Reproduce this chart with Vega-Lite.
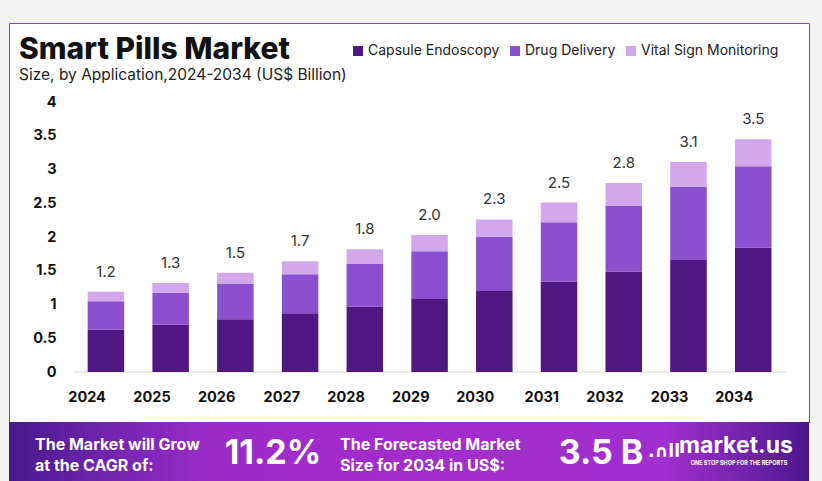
{
  "$schema": "https://vega.github.io/schema/vega-lite/v6.json",
  "background": "#f3f3f3",
  "padding": {"left": 8, "top": 22, "right": 14, "bottom": 0},
  "autosize": {"type": "pad"},
  "spacing": 0,
  "bounds": "flush",
  "datasets": {
    "main": [
      {"year": "2024", "application": "Capsule Endoscopy", "value": 0.63},
      {"year": "2024", "application": "Drug Delivery", "value": 0.42},
      {"year": "2024", "application": "Vital Sign Monitoring", "value": 0.14},
      {"year": "2025", "application": "Capsule Endoscopy", "value": 0.70},
      {"year": "2025", "application": "Drug Delivery", "value": 0.47},
      {"year": "2025", "application": "Vital Sign Monitoring", "value": 0.15},
      {"year": "2026", "application": "Capsule Endoscopy", "value": 0.78},
      {"year": "2026", "application": "Drug Delivery", "value": 0.53},
      {"year": "2026", "application": "Vital Sign Monitoring", "value": 0.16},
      {"year": "2027", "application": "Capsule Endoscopy", "value": 0.87},
      {"year": "2027", "application": "Drug Delivery", "value": 0.58},
      {"year": "2027", "application": "Vital Sign Monitoring", "value": 0.19},
      {"year": "2028", "application": "Capsule Endoscopy", "value": 0.97},
      {"year": "2028", "application": "Drug Delivery", "value": 0.63},
      {"year": "2028", "application": "Vital Sign Monitoring", "value": 0.22},
      {"year": "2029", "application": "Capsule Endoscopy", "value": 1.08},
      {"year": "2029", "application": "Drug Delivery", "value": 0.71},
      {"year": "2029", "application": "Vital Sign Monitoring", "value": 0.24},
      {"year": "2030", "application": "Capsule Endoscopy", "value": 1.20},
      {"year": "2030", "application": "Drug Delivery", "value": 0.80},
      {"year": "2030", "application": "Vital Sign Monitoring", "value": 0.26},
      {"year": "2031", "application": "Capsule Endoscopy", "value": 1.34},
      {"year": "2031", "application": "Drug Delivery", "value": 0.88},
      {"year": "2031", "application": "Vital Sign Monitoring", "value": 0.29},
      {"year": "2032", "application": "Capsule Endoscopy", "value": 1.49},
      {"year": "2032", "application": "Drug Delivery", "value": 0.97},
      {"year": "2032", "application": "Vital Sign Monitoring", "value": 0.34},
      {"year": "2033", "application": "Capsule Endoscopy", "value": 1.66},
      {"year": "2033", "application": "Drug Delivery", "value": 1.09},
      {"year": "2033", "application": "Vital Sign Monitoring", "value": 0.36},
      {"year": "2034", "application": "Capsule Endoscopy", "value": 1.84},
      {"year": "2034", "application": "Drug Delivery", "value": 1.21},
      {"year": "2034", "application": "Vital Sign Monitoring", "value": 0.40}
    ],
    "labels": [
      {"year": "2024", "label": "1.2"},
      {"year": "2025", "label": "1.3"},
      {"year": "2026", "label": "1.5"},
      {"year": "2027", "label": "1.7"},
      {"year": "2028", "label": "1.8"},
      {"year": "2029", "label": "2.0"},
      {"year": "2030", "label": "2.3"},
      {"year": "2031", "label": "2.5"},
      {"year": "2032", "label": "2.8"},
      {"year": "2033", "label": "3.1"},
      {"year": "2034", "label": "3.5"}
    ],
    "banner": [
      {"key": "cagr_label", "text": ["The Market will Grow", "at the CAGR of:"]},
      {"key": "cagr", "text": "11.2%"},
      {"key": "size_label", "text": ["The Forecasted Market", "Size for 2034 in US$:"]},
      {"key": "size", "text": "3.5 B"},
      {"key": "logo_icon", "text": ".∩ll"},
      {"key": "logo", "text": "market.us"},
      {"key": "tagline", "text": "ONE STOP SHOP FOR THE REPORTS"}
    ]
  },
  "vconcat": [
    {
      "width": 800,
      "height": 399,
      "view": {"fill": "white", "stroke": "#8c3fc4", "strokeWidth": 1},
      "title": {
        "text": "Smart Pills Market",
        "subtitle": "Size, by Application,2024-2034 (US$ Billion)",
        "anchor": "start",
        "frame": "group",
        "dx": 10,
        "offset": -60,
        "font": "Inter",
        "fontSize": 30,
        "fontWeight": 800,
        "color": "#111111",
        "subtitleFont": "Inter",
        "subtitleFontSize": 15.5,
        "subtitleColor": "#222222",
        "subtitlePadding": 3
      },
      "layer": [
        {
          "data": {"values": [{}]},
          "mark": {"type": "rect", "clip": false, "fill": {"gradient": "linear", "x1": 0, "x2": 1, "y1": 0, "y2": 0, "stops": [{"offset": 0, "color": "#46198a"}, {"offset": 0.1, "color": "#6a22ab"}, {"offset": 0.25, "color": "#9a2cc8"}, {"offset": 0.5, "color": "#a42ccc"}, {"offset": 0.82, "color": "#a02fcf"}, {"offset": 0.92, "color": "#7423ad"}, {"offset": 1, "color": "#4b178b"}]}},
          "encoding": {
            "y": {"datum": -0.7407, "type": "quantitative"},
            "y2": {"datum": -1.6296}
          }
        },
        {
          "data": {"values": [{}]},
          "mark": {"type": "rule", "color": "#d6d6d6", "strokeWidth": 1},
          "encoding": {
            "x": {"datum": "2024", "type": "ordinal", "bandPosition": -0.375},
            "x2": {"datum": "2034", "bandPosition": 1.4},
            "y": {"datum": 0, "type": "quantitative"}
          }
        },
        {
          "data": {"name": "main"},
          "mark": {"type": "bar"},
          "encoding": {
            "x": {
              "field": "year",
              "type": "ordinal",
              "scale": {"paddingInner": 0.436, "paddingOuter": 0.8975, "align": 0.677},
              "axis": {
                "title": null,
                "orient": "bottom",
                "offset": -50,
                "domain": false,
                "ticks": false,
                "tickSize": 0,
                "labelPadding": 25,
                "labelAngle": 0,
                "labelFont": "Inter",
                "labelFontSize": 14.5,
                "labelFontWeight": 700,
                "labelColor": "#111111"
              }
            },
            "y": {
              "field": "value",
              "type": "quantitative",
              "stack": "zero",
              "scale": {"domain": [-0.7407, 5.1704], "nice": false, "zero": false},
              "axis": {
                "title": null,
                "values": [0, 0.5, 1, 1.5, 2, 2.5, 3, 3.5, 4],
                "format": "~g",
                "offset": -52,
                "domain": false,
                "ticks": false,
                "tickSize": 0,
                "grid": false,
                "labelPadding": 5,
                "labelFont": "Inter",
                "labelFontSize": 14.5,
                "labelFontWeight": 700,
                "labelColor": "#111111"
              }
            },
            "color": {
              "field": "application",
              "type": "nominal",
              "scale": {
                "domain": ["Capsule Endoscopy", "Drug Delivery", "Vital Sign Monitoring"],
                "range": ["#4f1782", "#8a50cd", "#d3a7ec"]
              },
              "legend": {
                "title": null,
                "orient": "none",
                "legendX": 342,
                "legendY": 21,
                "direction": "horizontal",
                "symbolType": "square",
                "symbolSize": 100,
                "symbolStrokeWidth": 0,
                "labelFont": "Inter",
                "labelFontSize": 14,
                "labelColor": "#222222",
                "labelOffset": 3,
                "columnPadding": 8
              }
            },
            "order": {"field": "application", "type": "ordinal", "sort": "ascending"}
          }
        },
        {
          "data": {"name": "main"},
          "transform": [
            {"aggregate": [{"op": "sum", "field": "value", "as": "total"}], "groupby": ["year"]},
            {"lookup": "year", "from": {"data": {"name": "labels"}, "key": "year", "fields": ["label"]}}
          ],
          "mark": {"type": "text", "baseline": "alphabetic", "dy": -15, "font": "Inter", "fontSize": 15, "color": "#333333"},
          "encoding": {
            "x": {"field": "year", "type": "ordinal"},
            "y": {"field": "total", "type": "quantitative"},
            "text": {"field": "label"}
          }
        }
      ]
    },
    {
      "hconcat": [
        {
          "width": 52, "height": 60,
          "data": {"name": "banner"},
          "transform": [{"filter": "datum.key === 'cagr_label'"}],
          "mark": {"type": "text", "align": "left", "baseline": "middle", "dy": -7, "font": "Inter", "fontSize": 16, "fontWeight": 700, "color": "white", "lineHeight": 21},
          "encoding": {"text": {"field": "text"}}
        },
        {
          "width": 176, "height": 60,
          "data": {"values": [{}]},
          "mark": {"type": "text"},
          "encoding": {"text": {"value": ""}}
        },
        {
          "width": 72, "height": 60,
          "data": {"name": "banner"},
          "transform": [{"filter": "datum.key === 'cagr'"}],
          "mark": {"type": "text", "align": "center", "baseline": "middle", "dy": 2, "font": "Inter", "fontSize": 34, "fontWeight": 700, "color": "white"},
          "encoding": {"text": {"field": "text"}}
        },
        {
          "width": 62, "height": 60,
          "data": {"name": "banner"},
          "transform": [{"filter": "datum.key === 'size_label'"}],
          "mark": {"type": "text", "align": "left", "baseline": "middle", "dy": -7, "font": "Inter", "fontSize": 16, "fontWeight": 700, "color": "white", "lineHeight": 21},
          "encoding": {"text": {"field": "text"}}
        },
        {
          "width": 190, "height": 60,
          "data": {"values": [{}]},
          "mark": {"type": "text"},
          "encoding": {"text": {"value": ""}}
        },
        {
          "width": 80, "height": 60,
          "data": {"name": "banner"},
          "transform": [{"filter": "datum.key === 'size'"}],
          "mark": {"type": "text", "align": "center", "baseline": "middle", "dy": 2, "font": "Inter", "fontSize": 34, "fontWeight": 700, "color": "white"},
          "encoding": {"text": {"field": "text"}}
        },
        {
          "width": 46, "height": 60,
          "data": {"name": "banner"},
          "transform": [{"filter": "datum.key === 'logo_icon'"}],
          "mark": {"type": "text", "align": "center", "baseline": "middle", "dy": 0, "font": "DejaVu Sans", "fontSize": 17, "fontWeight": 700, "color": "white"},
          "encoding": {"text": {"field": "text"}}
        },
        {
          "width": 98, "height": 60,
          "data": {"name": "banner"},
          "layer": [
            {
              "transform": [{"filter": "datum.key === 'logo'"}],
              "mark": {"type": "text", "align": "center", "baseline": "alphabetic", "dy": 1, "font": "Inter", "fontSize": 23, "fontWeight": 700, "color": "white"},
              "encoding": {"text": {"field": "text"}}
            },
            {
              "transform": [{"filter": "datum.key === 'tagline'"}],
              "mark": {"type": "text", "align": "center", "baseline": "top", "dx": 3, "dy": 9, "font": "Inter", "fontSize": 5.5, "fontWeight": 700, "color": "white"},
              "encoding": {"text": {"field": "text"}}
            }
          ]
        },
        {
          "width": 24, "height": 60,
          "data": {"values": [{}]},
          "mark": {"type": "text"},
          "encoding": {"text": {"value": ""}}
        }
      ],
      "spacing": 0,
      "bounds": "flush"
    }
  ],
  "config": {
    "view": {"stroke": null},
    "concat": {"spacing": 0}
  }
}
